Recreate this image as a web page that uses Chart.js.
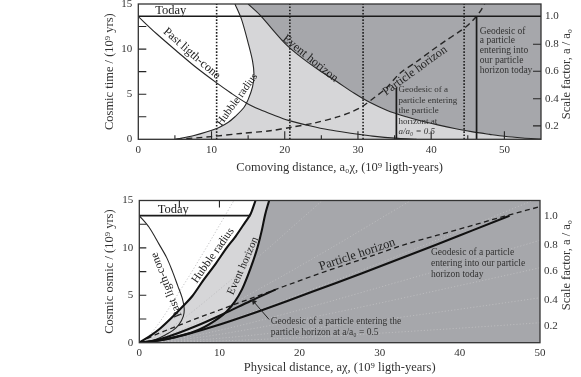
<!DOCTYPE html>
<html><head><meta charset="utf-8">
<script src="https://cdn.jsdelivr.net/npm/chart.js@4.4.1/dist/chart.umd.min.js"></script>
<style>
html,body{margin:0;padding:0;background:#fff;}
#wrap{position:relative;width:581px;height:377px;overflow:hidden;background:#fff;}
#c1{position:absolute;left:0;top:0;}
#c2{position:absolute;left:0;top:188px;}
</style></head><body>
<div id="wrap"><canvas id="c1" width="581" height="188"></canvas><canvas id="c2" width="581" height="189"></canvas></div>
<script>
// ---------------- DATA ----------------
const xTicksTop = [0, 10, 20, 30, 40, 50];
const xTicksBottom = [0, 10, 20, 30, 40, 50];
const timeTicks = [0, 5, 10, 15];
const scaleFactorLabels = ['0.2', '0.4', '0.6', '0.8', '1.0'];
const scaleFactorTimesTop = [1.49, 4.5, 7.55, 10.53, 13.65];
const scaleFactorTimesBottom = [1.7, 4.5, 7.5, 10.3, 13.4];
const todayTop = 13.65;
const todayBottom = 13.4;

// Upper panel: comoving distance (10^9 ly) vs cosmic time (10^9 yr)
const comovingPastLightCone = [[0,13.6],[2.5,11.7],[5.5,9.6],[8,7.9],[10.7,6.25],[12.7,5.1],[14.8,4.0],[16.6,3.3],[18.3,2.75],[20.5,2.1],[23.4,1.5],[26,1.05],[29.3,0.65],[32,0.35],[35.5,0.1],[38,0]];
const comovingHubbleRadius = [[5.0,0],[7.5,0.4],[10.7,1.2],[12.3,1.9],[13.2,2.5],[14.4,3.5],[15.0,4.4],[15.6,5.8],[15.8,7.2],[15.6,8.7],[15.0,10.7],[14.1,13.3],[13.2,15]];
const comovingEventHorizon = [[15.0,15],[16.6,13.8],[18.2,12.3],[20.2,10.5],[22.4,9.0],[24.8,7.6],[27.1,6.4],[29.5,5.1],[31.6,4.1],[34,3.2],[36.6,2.5],[38.8,2.0],[40.9,1.6],[43.2,1.2],[45.5,0.85],[48,0.55],[50,0.33],[52.5,0.15],[55,0.02]];
const comovingParticleHorizon = [[5.2,0],[10,0.3],[14,0.65],[18,0.95],[21,1.35],[24,1.8],[27.1,2.45],[29,3.0],[30.5,3.6],[32.2,4.6],[33.9,5.7],[35.7,7.3],[38,8.6],[40,9.8],[42.1,11.0],[43.6,11.8],[44.8,12.5],[45.6,13.1],[46.2,13.65],[46.8,14.3],[47.3,15]];
const comovingWorldlines = [10.7, 20.7, 30.7, 44.5];
const comovingGeodesicHalf = [[35.25,0],[35.25,5.7]];
const comovingGeodesicToday = [[46.2,0],[46.2,13.65]];

// Lower panel: physical distance (10^9 ly) vs cosmic time (10^9 yr)
const physicalPastLightCone = [[0,13.4],[1.2,12.2],[2.46,10.4],[3.4,9.0],[4.1,7.6],[4.8,6.0],[5.36,4.7],[5.6,3.6],[5.5,2.8],[4.95,1.9],[4.2,1.3],[3.3,0.85],[2.2,0.4],[1.2,0.15],[0,0]];
const physicalHubbleRadius = [[0,0],[1.5,0.8],[2.6,1.5],[4.0,2.6],[5.5,3.9],[6.6,4.9],[8.0,6.6],[9.5,8.3],[10.9,10.0],[12.0,11.2],[13.2,12.7],[13.9,13.6],[14.5,15]];
const physicalEventHorizon = [[0,0],[2.5,0.25],[4.7,0.64],[7.5,1.4],[9.9,2.6],[10.9,3.3],[11.9,4.3],[12.8,5.6],[13.5,7.0],[14.2,8.6],[14.8,10.2],[15.3,11.9],[15.7,13.5],[16.2,15]];
const physicalParticleHorizon = [[0,0],[1,0.45],[5,1.85],[10,3.45],[16.3,5.4],[22.5,7.3],[28.8,9.1],[33.3,10.4],[39.4,11.85],[45.6,13.35],[50,14.35]];
const physicalGeodesicToday = [[0,0],[2.31,0.21],[4.62,0.6],[9.24,1.7],[13.86,3.0],[18.48,4.4],[23.1,5.85],[27.72,7.3],[32.34,8.8],[36.96,10.3],[41.58,11.85],[46.2,13.4]];
const physicalGeodesicHalf = [[0,0],[1.74,0.21],[3.47,0.6],[6.94,1.7],[10.41,3.0],[13.88,4.4],[17.0,5.6]];
const physicalWorldline1 = [[0,0],[0.535,0.21],[1.07,0.6],[2.14,1.7],[3.21,3.0],[4.28,4.4],[5.35,5.85],[6.42,7.3],[7.49,8.8],[8.56,10.3],[9.63,11.85],[10.7,13.4],[11.77,14.95]];
const physicalWorldline2 = [[0,0],[1.035,0.21],[2.07,0.6],[4.14,1.7],[6.21,3.0],[8.28,4.4],[10.35,5.85],[12.42,7.3],[14.49,8.8],[16.56,10.3],[18.63,11.85],[20.7,13.4],[22.77,14.95]];
const physicalWorldline3 = [[0,0],[1.535,0.21],[3.07,0.6],[6.14,1.7],[9.21,3.0],[12.28,4.4],[15.35,5.85],[18.42,7.3],[21.49,8.8],[24.56,10.3],[27.63,11.85],[30.7,13.4],[33.77,14.95]];
const physicalWorldline4 = [[0,0],[2.225,0.21],[4.45,0.6],[8.9,1.7],[13.35,3.0],[17.8,4.4],[22.25,5.85],[26.7,7.3],[31.15,8.8],[35.6,10.3],[40.05,11.85],[44.5,13.4],[48.95,14.95]];
const physicalWorldline5 = [[0,0],[3,0.21],[6,0.6],[12,1.7],[18,3.0],[24,4.4],[30,5.85],[36,7.3],[42,8.8],[48,10.3],[54,11.85]];
const physicalWorldline6 = [[0,0],[3.9,0.21],[7.8,0.6],[15.6,1.7],[23.4,3.0],[31.2,4.4],[39,5.85],[46.8,7.3],[54.6,8.8]];
const physicalWorldline7 = [[0,0],[5.9,0.21],[11.8,0.6],[23.6,1.7],[35.4,3.0],[47.2,4.4],[59,5.85]];
const physicalWorldline8 = [[0,0],[10.75,0.21],[21.5,0.6],[43,1.7],[64.5,3.0]];
const physicalTodayLine = [[0,13.4],[13.85,13.4]];
const arrowPoints = [[16.2,2.45],[14.3,4.3]];

// ---------------- helpers ----------------
const P = a => a.map(([x, y]) => ({x, y}));
const FONT = "'Liberation Serif','Times New Roman','DejaVu Serif',serif";
const INK = '#262626';

function lineDS(data, o) {
  return Object.assign({data: P(data), showLine: true, pointRadius: 0, pointHoverRadius: 0,
    borderColor: INK, borderWidth: 1, fill: false, tension: 0, order: 5}, o || {});
}
function curveDS(data, o) { return lineDS(data, Object.assign({tension: 0.3}, o || {})); }
function monoDS(data, o) { return lineDS(data, Object.assign({cubicInterpolationMode: 'monotone'}, o || {})); }
function polyDS(data, color, order) {
  return {data: P(data), showLine: true, pointRadius: 0, pointHoverRadius: 0, borderWidth: 0,
    borderColor: 'rgba(0,0,0,0)', backgroundColor: color, fill: 'shape', tension: 0, order};
}

const decorPlugin = {
  id: 'decor',
  beforeDraw(chart, args, o) {
    const {ctx, chartArea: a} = chart;
    ctx.save(); ctx.fillStyle = o.bg;
    ctx.fillRect(a.left, a.top, a.right - a.left, a.bottom - a.top);
    ctx.restore();
  },
  afterDatasetsDraw(chart, args, o) {
    const {ctx, chartArea: a, scales} = chart;
    const sx = scales.x, sy = scales.y, sr = scales.yr;
    ctx.save();
    ctx.strokeStyle = INK; ctx.lineWidth = 1.1;
    ctx.beginPath();
    (o.bottomTicks || []).forEach(v => { const px = sx.getPixelForValue(v); const len = v % 10 === 0 ? o.majorLen : o.minorLen; ctx.moveTo(px, a.bottom); ctx.lineTo(px, a.bottom - len); });
    (o.topTicks || []).forEach(v => { const px = sx.getPixelForValue(v); ctx.moveTo(px, a.top); ctx.lineTo(px, a.top + o.topLen); });
    (o.leftTicks || []).forEach(v => { const py = sy.getPixelForValue(v); ctx.moveTo(a.left, py); ctx.lineTo(a.left + o.leftLen, py); });
    (o.rightTicks || []).forEach(v => { const py = sr.getPixelForValue(v); ctx.moveTo(a.right, py); ctx.lineTo(a.right - o.rightLen, py); });
    ctx.stroke();
    ctx.lineWidth = 1.3; ctx.strokeStyle = '#333';
    ctx.strokeRect(a.left, a.top, a.right - a.left, a.bottom - a.top);
    (o.labels || []).forEach(l => {
      const px = sx.getPixelForValue(l.x), py = sy.getPixelForValue(l.y);
      ctx.save();
      ctx.translate(px, py);
      ctx.rotate((l.rot || 0) * Math.PI / 180);
      ctx.textAlign = l.align || 'center';
      ctx.textBaseline = 'middle';
      ctx.fillStyle = l.color || '#222';
      l.text.forEach((t, i) => {
        const it = t.startsWith('*');
        ctx.font = (it ? 'italic ' : '') + l.size + 'px ' + FONT;
        ctx.fillText(it ? t.slice(1) : t, 0, i * (l.lh || 0));
      });
      ctx.restore();
    });
    ctx.save();
    ctx.translate(o.rTitleX, o.rTitleY);
    ctx.rotate(-Math.PI / 2);
    ctx.textAlign = 'center'; ctx.textBaseline = 'middle';
    ctx.fillStyle = '#333';
    ctx.font = '12.5px ' + FONT;
    ctx.fillText(o.rTitle, 0, 0);
    ctx.restore();
    ctx.restore();
  }
};

function makeScales(c) {
  const tickFont = {family: FONT, size: 11};
  return {
    x: {type: 'linear', position: 'bottom', min: 0, max: c.xmax,
      afterBuildTicks: s => { s.ticks = c.xTicks.map(v => ({value: v})); },
      afterFit: s => { s.height = c.xh; s.paddingLeft = 0; s.paddingRight = 0; },
      grid: {display: false, drawTicks: false}, border: {display: false},
      ticks: {autoSkip: false, maxRotation: 0, padding: 4, color: '#333', font: tickFont},
      title: {display: true, text: c.xTitle, color: '#333', font: {family: FONT, size: 12.5}, padding: {top: 0, bottom: c.xtpad}}},
    y: {type: 'linear', position: 'left', min: 0, max: 15,
      afterBuildTicks: s => { s.ticks = timeTicks.map(v => ({value: v})); },
      afterFit: s => { s.width = c.yw; s.paddingTop = 0; s.paddingBottom = 0; },
      grid: {display: false, drawTicks: false}, border: {display: false},
      ticks: {autoSkip: false, padding: 6, color: '#333', font: tickFont},
      title: {display: true, text: c.yTitle, color: '#333', font: {family: FONT, size: 12.5}, padding: {top: 102.5, bottom: 0}}},
    yr: {type: 'linear', position: 'right', min: 0, max: 15,
      afterBuildTicks: s => { s.ticks = c.rTimes.map(v => ({value: v})); },
      afterFit: s => { s.width = c.rw; s.paddingTop = 0; s.paddingBottom = 0; },
      grid: {display: false, drawTicks: false}, border: {display: false},
      ticks: {autoSkip: false, padding: 4, color: '#333', font: tickFont, callback: (v, i) => scaleFactorLabels[i]}}
  };
}

const DARK = '#a6a7ab', LIGHT = '#d6d6d8', WHITE = '#ffffff';

// ---------------- upper chart ----------------
const topDatasets = [
  polyDS([[0,0], ...comovingHubbleRadius, [0,15]], WHITE, 20),
  polyDS([...comovingEventHorizon, [55,15]], DARK, 19),
  ...comovingWorldlines.map(c => lineDS([[c,0],[c,15]], {borderDash: [1.6,1.6], borderWidth: 1.6, borderColor: '#1e1e1e', order: 8})),
  curveDS(comovingPastLightCone, {borderWidth: 1.1}),
  curveDS(comovingHubbleRadius, {borderWidth: 1.1}),
  curveDS(comovingEventHorizon, {borderWidth: 1.1}),
  curveDS(comovingParticleHorizon, {borderWidth: 1.4, borderDash: [6,4]}),
  lineDS(comovingGeodesicHalf, {borderWidth: 1.7, borderColor: '#1a1a1a', order: 3}),
  lineDS(comovingGeodesicToday, {borderWidth: 1.7, borderColor: '#1a1a1a', order: 3}),
  lineDS([[0,todayTop],[55,todayTop]], {borderWidth: 1.6, borderColor: '#1a1a1a', order: 2})
];

new Chart(document.getElementById('c1'), {
  type: 'scatter',
  data: {datasets: topDatasets},
  plugins: [decorPlugin],
  options: {
    responsive: false, animation: false, devicePixelRatio: 1,
    layout: {padding: {top: 4, left: 0, right: 0, bottom: 0}},
    scales: makeScales({xmax: 55, xTicks: xTicksTop, xh: 48.7, xtpad: 12.5, yw: 138.3, rw: 40,
      rTimes: scaleFactorTimesTop, xTitle: 'Comoving distance, a₀χ, (10⁹ ligth-years)', yTitle: 'Cosmic time / (10⁹ yrs)'}),
    plugins: {
      legend: {display: false}, tooltip: {enabled: false},
      decor: {
        bg: LIGHT,
        bottomTicks: [5,10,15,20,25,30,35,40,45,50], majorLen: 8, minorLen: 4,
        leftTicks: [2.5,5,7.5,10,12.5], leftLen: 8,
        rightTicks: scaleFactorTimesTop.slice(0, 4), rightLen: 8,
        rTitle: 'Scale factor, a / a₀', rTitleX: 567, rTitleY: 74,
        labels: [
          {x: 2.3, y: 14.25, text: ['Today'], size: 12.5, align: 'left'},
          {x: 7.3, y: 9.5, text: ['Past ligth-cone'], size: 12, rot: 41},
          {x: 13.5, y: 4.4, text: ['Hubble radius'], size: 11, rot: -54},
          {x: 23.5, y: 8.95, text: ['Event horizon'], size: 12, rot: 39},
          {x: 37.8, y: 7.6, text: ['Particle horizon'], size: 12, rot: -36},
          {x: 35.55, y: 5.5, text: ['Geodesic of a', 'particle entering', 'the particle', 'horizont at', '*a/a₀ = 0.5'], size: 9, align: 'left', lh: 10.5, color: '#333'},
          {x: 46.65, y: 12.0, text: ['Geodesic of', 'a particle', 'entering into', 'our particle', 'horizon today'], size: 9.5, align: 'left', lh: 9.8, color: '#333'}
        ]
      }
    }
  }
});

// ---------------- lower chart ----------------
const fan = [physicalWorldline1, physicalWorldline2, physicalWorldline3, physicalWorldline4,
  physicalWorldline5, physicalWorldline6, physicalWorldline7, physicalWorldline8];

const bottomDatasets = [
  polyDS([...physicalEventHorizon, [0,15]], LIGHT, 21),
  polyDS([...physicalHubbleRadius, [0,15]], WHITE, 20),
  ...fan.map(d => monoDS(d, {borderDash: [1.2,2], borderWidth: 0.9, borderColor: '#bdbdbf', order: 10})),
  curveDS(physicalPastLightCone, {borderWidth: 1.1}),
  monoDS(physicalParticleHorizon, {borderWidth: 1.3, borderDash: [5,3.5], borderColor: '#1e1e1e'}),
  monoDS(physicalHubbleRadius, {borderWidth: 2.1, borderColor: '#111', order: 4}),
  monoDS(physicalEventHorizon, {borderWidth: 2.1, borderColor: '#111', order: 4}),
  monoDS(physicalGeodesicToday, {borderWidth: 2.1, borderColor: '#111', order: 3}),
  monoDS(physicalGeodesicHalf, {borderWidth: 2.1, borderColor: '#111', order: 3}),
  lineDS(physicalTodayLine, {borderWidth: 1.6, borderColor: '#1a1a1a', order: 2}),
  lineDS(arrowPoints, {borderWidth: 1, borderColor: '#222', order: 2,
    pointRadius: [0, 3.2], pointStyle: 'triangle', rotation: -42, pointBackgroundColor: '#222', pointBorderWidth: 0, pointBorderColor: '#222'})
];

new Chart(document.getElementById('c2'), {
  type: 'scatter',
  data: {datasets: bottomDatasets},
  plugins: [decorPlugin],
  options: {
    responsive: false, animation: false, devicePixelRatio: 1,
    layout: {padding: {top: 12.5, left: 0, right: 0, bottom: 0}},
    scales: makeScales({xmax: 50, xTicks: xTicksBottom, xh: 34.3, xtpad: 1.5, yw: 139.3, rw: 41,
      rTimes: scaleFactorTimesBottom, xTitle: 'Physical distance, aχ, (10⁹ ligth-years)', yTitle: 'Cosmic osmic / (10⁹ yrs)'}),
    plugins: {
      legend: {display: false}, tooltip: {enabled: false},
      decor: {
        bg: DARK,
        topTicks: [5, 10], topLen: 7,
        leftTicks: [2.5,5,7.5,10,12.5], leftLen: 7,
        rTitle: 'Scale factor, a / a₀', rTitleX: 567, rTitleY: 77,
        labels: [
          {x: 2.3, y: 14.0, text: ['Today'], size: 12.5, align: 'left'},
          {x: 3.4, y: 6.1, text: ['Past ligth-cone'], size: 11.5, rot: -111.5},
          {x: 9.2, y: 9.2, text: ['Hubble radius'], size: 11.5, rot: -54.6},
          {x: 12.95, y: 8.1, text: ['Event horizon'], size: 11, rot: -66},
          {x: 27.2, y: 9.3, text: ['Particle horizon'], size: 12.5, rot: -18.4},
          {x: 36.4, y: 9.5, text: ['Geodesic of a particle', 'entering into our particle', 'horizon today'], size: 9.5, align: 'left', lh: 11, color: '#333'},
          {x: 16.4, y: 2.19, text: ['Geodesic of a particle entering the', 'particle horizon at a/a₀ = 0.5'], size: 9.5, align: 'left', lh: 10.5, color: '#333'}
        ]
      }
    }
  }
});
</script>
</body></html>
